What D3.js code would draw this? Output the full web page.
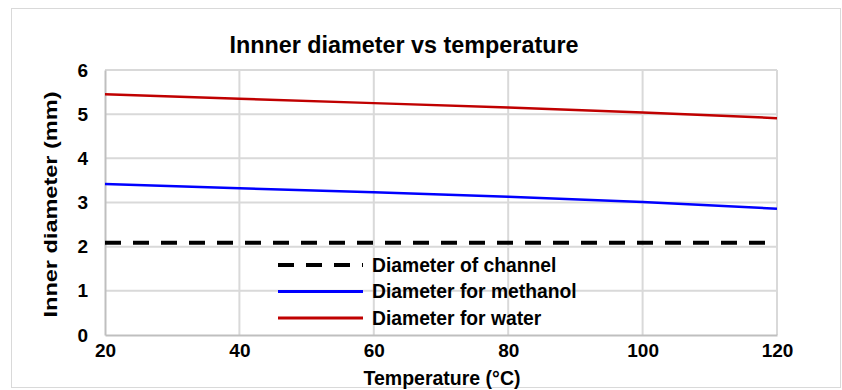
<!DOCTYPE html>
<html>
<head>
<meta charset="utf-8">
<script src="https://cdn.jsdelivr.net/npm/d3@7"></script>
<style>
  body { margin: 0; background: #fff; }
  text { font-family: "Liberation Sans", Arial, Helvetica, sans-serif; font-weight: bold; fill: #000; }
</style>
</head>
<body>
<div id="chart"></div>
<script>
// temperatures (°C)
const temps = [20, 40, 60, 80, 100, 120];
// inner diameter (mm)
const waterDia = [5.45, 5.35, 5.25, 5.15, 5.04, 4.91];
const methanolDia = [3.42, 3.32, 3.23, 3.13, 3.01, 2.86];
const channelDia = [2.09, 2.09, 2.09, 2.09, 2.09, 2.09];

const xTicks = [20, 40, 60, 80, 100, 120];
const yTicks = [0, 1, 2, 3, 4, 5, 6];

const seriesNames = ["Diameter of channel", "Diameter for methanol", "Diameter for water"];

const W = 842, H = 390;
const margin = {top: 70, right: 65, bottom: 55, left: 105};

const svg = d3.select("#chart").append("svg")
    .attr("width", W).attr("height", H);

// outer frame
svg.append("rect")
    .attr("x", 11.5).attr("y", 8.5)
    .attr("width", 829).attr("height", 379)
    .attr("fill", "none").attr("stroke", "#d9d9d9").attr("stroke-width", 1);

const xScale = d3.scaleLinear().domain([20, 120]).range([margin.left, W - margin.right]);
const yScale = d3.scaleLinear().domain([0, 6]).range([H - margin.bottom, margin.top]);

// gridlines
svg.append("g").selectAll("line.gx")
    .data(xTicks.slice(1))
    .enter().append("line")
    .attr("x1", d => xScale(d)).attr("x2", d => xScale(d))
    .attr("y1", yScale(0)).attr("y2", yScale(6))
    .attr("stroke", "#d9d9d9").attr("stroke-width", 2);

svg.append("g").selectAll("line.gy")
    .data(yTicks.slice(1))
    .enter().append("line")
    .attr("x1", xScale(20)).attr("x2", xScale(120))
    .attr("y1", d => yScale(d)).attr("y2", d => yScale(d))
    .attr("stroke", "#d9d9d9").attr("stroke-width", 2);

// axes
const xAxis = svg.append("g")
    .attr("transform", `translate(0,${yScale(0)})`)
    .call(d3.axisBottom(xScale).tickValues(xTicks).tickSize(0).tickPadding(9));
xAxis.select(".domain").attr("stroke", "#bfbfbf").attr("stroke-width", 2);
xAxis.selectAll("text").style("font-size", "19px");

const yAxis = svg.append("g")
    .attr("transform", `translate(${xScale(20)},0)`)
    .call(d3.axisLeft(yScale).tickValues(yTicks).tickFormat(d3.format("d")).tickSize(0).tickPadding(17));
yAxis.select(".domain").attr("stroke", "#bfbfbf").attr("stroke-width", 2);
yAxis.selectAll("text").style("font-size", "19px");

// lines
const line = d3.line()
    .x(d => xScale(d[0]))
    .y(d => yScale(d[1]));

svg.append("path")
    .datum(d3.zip(temps, channelDia))
    .attr("d", line)
    .attr("fill", "none").attr("stroke", "#000")
    .attr("stroke-width", 4).attr("stroke-dasharray", "16,12");

svg.append("path")
    .datum(d3.zip(temps, methanolDia))
    .attr("d", line)
    .attr("fill", "none").attr("stroke", "#0000ff").attr("stroke-width", 2.5);

svg.append("path")
    .datum(d3.zip(temps, waterDia))
    .attr("d", line)
    .attr("fill", "none").attr("stroke", "#c00000").attr("stroke-width", 2.5);

// title
svg.append("text")
    .attr("x", 404).attr("y", 53)
    .attr("text-anchor", "middle")
    .style("font-size", "23px")
    .attr("textLength", 349).attr("lengthAdjust", "spacingAndGlyphs")
    .text("Innner diameter vs temperature");

// axis titles
svg.append("text")
    .attr("x", 442).attr("y", 385)
    .attr("text-anchor", "middle")
    .style("font-size", "19.5px")
    .text("Temperature (°C)");

svg.append("text")
    .attr("transform", `translate(57,${(yScale(0) + yScale(6)) / 2 + 2}) rotate(-90)`)
    .attr("text-anchor", "middle")
    .style("font-size", "18px")
    .attr("textLength", 226).attr("lengthAdjust", "spacingAndGlyphs")
    .text("Inner diameter (mm)");

// legend
const legendStyles = [
    {color: "#000", width: 4, dash: "16,12"},
    {color: "#0000ff", width: 3, dash: null},
    {color: "#c00000", width: 3, dash: null}
];
const legend = svg.append("g").attr("transform", "translate(278,265)");
const rows = legend.selectAll("g")
    .data(seriesNames)
    .enter().append("g")
    .attr("transform", (d, i) => `translate(0,${i * 26.5})`);
rows.append("line")
    .attr("x1", 0).attr("x2", 85).attr("y1", 0).attr("y2", 0)
    .attr("stroke", (d, i) => legendStyles[i].color)
    .attr("stroke-width", (d, i) => legendStyles[i].width)
    .attr("stroke-dasharray", (d, i) => legendStyles[i].dash);
rows.append("text")
    .attr("x", 94).attr("y", 0).attr("dy", "0.35em")
    .style("font-size", "19.3px")
    .text(d => d);
</script>
</body>
</html>
